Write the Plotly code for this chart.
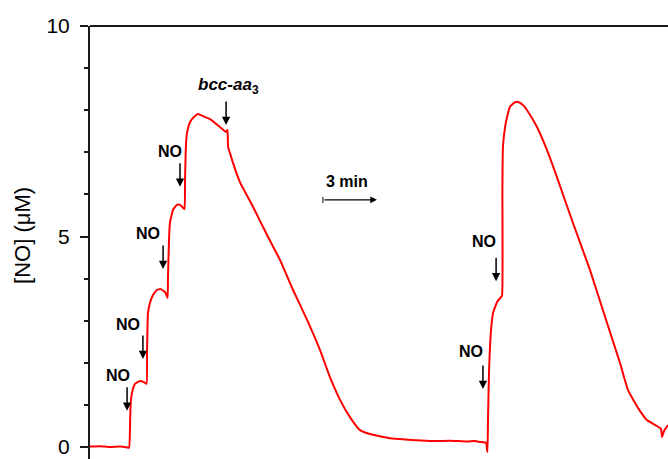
import plotly.graph_objects as go

# ---- data: NO electrode trace (time in min, [NO] in uM) ----
time_min = [0.00, 0.56, 1.11, 1.67, 2.06, 2.17, 2.22, 2.25, 2.33, 2.50, 2.78, 3.00, 3.14,
            3.17, 3.22, 3.33, 3.50, 3.72, 3.94, 4.17, 4.31,
            4.33, 4.39, 4.44, 4.61, 4.83, 5.00, 5.17, 5.25,
            5.28, 5.33, 5.39, 5.56, 5.83, 6.00, 6.28, 6.67, 7.22, 7.56, 7.64, 7.67, 7.78, 7.89,
            8.33, 9.06, 9.83, 10.56, 11.28, 12.06, 12.78, 13.33, 13.89, 14.44, 15.00, 15.72,
            16.67, 17.22, 18.10, 19.06, 20.00, 20.94, 21.39, 21.67, 22.00,
            22.08, 22.11, 22.17, 22.28, 22.39, 22.61, 22.83, 22.89,
            22.91, 22.94, 23.06, 23.17, 23.33, 23.61, 23.83, 24.06, 24.28, 24.83, 25.39,
            25.94, 26.83, 27.78, 28.72, 29.44, 29.89, 30.22, 30.44, 30.94, 31.56, 31.72,
            31.78, 31.89, 32.11]
no_uM = [0.01, 0.02, 0.00, 0.01, -0.01, -0.02, 0.40, 0.95, 1.28, 1.50, 1.57, 1.54, 1.50,
         2.30, 3.18, 3.42, 3.61, 3.73, 3.75, 3.68, 3.54,
         3.97, 4.92, 5.32, 5.63, 5.75, 5.75, 5.68, 5.65,
         6.34, 7.17, 7.46, 7.72, 7.86, 7.91, 7.86, 7.79, 7.60, 7.48, 7.53, 7.13, 6.98, 6.82,
         6.29, 5.70, 5.04, 4.44, 3.73, 3.02, 2.30, 1.66, 1.12, 0.71, 0.40, 0.29,
         0.21, 0.19, 0.16, 0.14, 0.15, 0.13, 0.14, 0.12, 0.10,
         -0.12, 0.64, 1.83, 2.78, 3.18, 3.44, 3.56, 3.59,
         6.10, 7.13, 7.60, 7.84, 8.08, 8.19, 8.19, 8.12, 8.00, 7.60, 7.05,
         6.41, 5.32, 4.20, 2.95, 2.00, 1.35, 1.09, 0.93, 0.64, 0.48, 0.43,
         0.24, 0.38, 0.52]

# ---- labels (text centre) and arrows (x, tip) ----
label_texts = ["NO", "NO", "NO", "NO", "NO", "NO", "<i><b>bcc-aa</b></i><sub><b>3</b></sub>"]
label_x = [1.56, 2.11, 3.22, 4.44, 21.17, 21.89, 7.67]
label_y = [1.71, 2.90, 5.08, 7.01, 2.26, 4.89, 8.57]
arrow_x = [2.06, 2.94, 4.06, 5.00, 21.83, 22.56, 7.56]
arrow_tip_y = [0.86, 2.09, 4.23, 6.18, 1.38, 3.94, 7.65]

yticks = [0, 5, 10]
scale_bar_min = 3
scale_bar_end = 15.94
scale_bar_y = 5.87

fig = go.Figure()
fig.add_trace(go.Scatter(x=time_min, y=no_uM, mode="lines",
                         line=dict(color="#ff0000", width=2, shape="spline", smoothing=0.4),
                         showlegend=False))

FONT = "Liberation Sans, Arial, sans-serif"
for t, lx, ly in zip(label_texts, label_x, label_y):
    is_no = t == "NO"
    fig.add_annotation(x=lx, y=ly, text="<b>%s</b>" % t if is_no else t,
                       showarrow=False,
                       font=dict(family=FONT, size=16 if is_no else 17, color="black"),
                       xanchor="center", yanchor="middle")
for ax_, ty in zip(arrow_x, arrow_tip_y):
    fig.add_annotation(x=ax_, y=ty, text="", showarrow=True, ax=0, ay=-25,
                       arrowhead=2, arrowsize=1.1, arrowwidth=1.5, arrowcolor="black")

# scale bar
fig.add_annotation(x=scale_bar_end, y=scale_bar_y, text="", showarrow=True,
                   ax=-scale_bar_min * 18, ay=0, arrowhead=2, arrowsize=1.1,
                   arrowwidth=1.2, arrowcolor="black")
fig.add_shape(type="line", x0=scale_bar_end - scale_bar_min, x1=scale_bar_end - scale_bar_min,
              y0=scale_bar_y - 0.07, y1=scale_bar_y + 0.07, line=dict(color="black", width=1))
fig.add_annotation(x=scale_bar_end - scale_bar_min / 2 - 0.17, y=scale_bar_y + 0.43,
                   text="<b>%d min</b>" % scale_bar_min, showarrow=False,
                   font=dict(family=FONT, size=16, color="black"))

# y-axis title
fig.add_annotation(xref="paper", yref="paper", x=-0.118, y=0.517, text="[NO] (\u03bcM)",
                   textangle=-90, showarrow=False, xanchor="center", yanchor="middle",
                   font=dict(family=FONT, size=22, color="black"))

# top frame line
fig.add_shape(type="line", xref="paper", yref="paper", x0=0, x1=1, y0=1, y1=1,
              line=dict(color="#1a1a1a", width=2))

fig.update_layout(
    width=668, height=459,
    margin=dict(l=90, r=0, t=26, b=0),
    plot_bgcolor="white", paper_bgcolor="white",
    xaxis=dict(range=[0, 32.11], showline=False, showgrid=False, zeroline=False,
               showticklabels=False, ticks=""),
    yaxis=dict(range=[-0.285, 10], showline=True, linewidth=2, linecolor="#1a1a1a",
               showgrid=False, zeroline=False, tickvals=yticks, ticks="outside",
               ticklen=8, tickwidth=1.5, tickcolor="#1a1a1a",
               ticklabelstandoff=6,
               tickfont=dict(family=FONT, size=21, color="black"),
               minor=dict(dtick=1, ticks="outside", ticklen=4, tickwidth=1.5,
                          tickcolor="#1a1a1a")),
)
fig.write_html("out.html", config={"displayModeBar": False},
               post_script="document.body.style.margin='0';document.body.style.overflow='hidden';")
